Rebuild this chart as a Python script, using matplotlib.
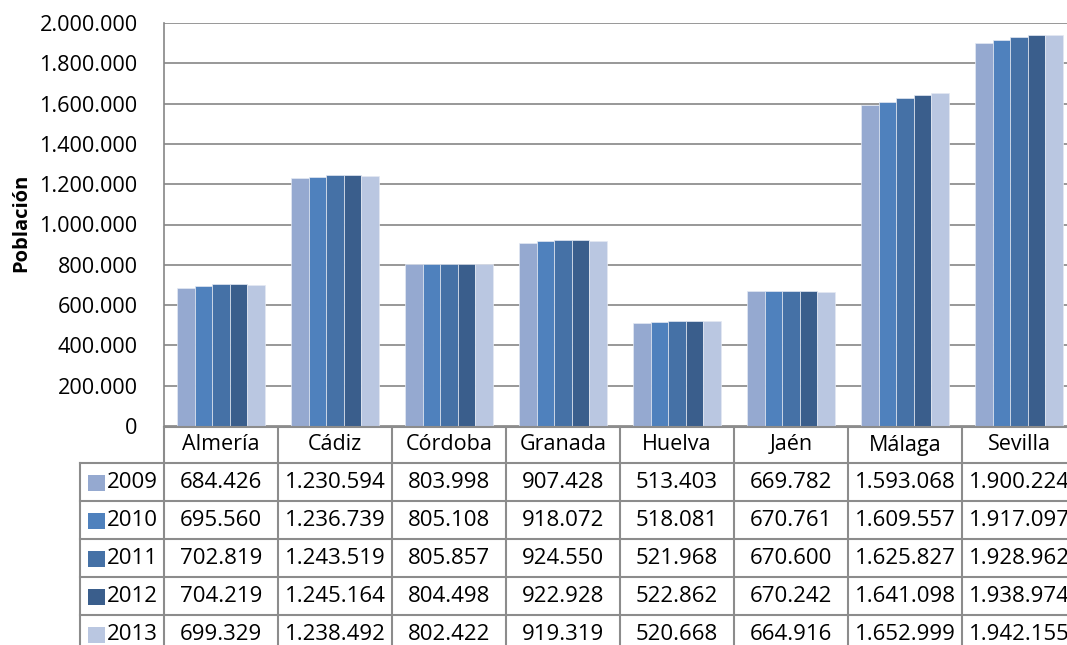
import matplotlib.pyplot as plt
from matplotlib.transforms import blended_transform_factory
from matplotlib.patches import Rectangle

# datos
provincias = ['Almería', 'Cádiz', 'Córdoba', 'Granada', 'Huelva', 'Jaén', 'Málaga', 'Sevilla']
anios = ['2009', '2010', '2011', '2012', '2013']
pob_2009 = [684426, 1230594, 803998, 907428, 513403, 669782, 1593068, 1900224]
pob_2010 = [695560, 1236739, 805108, 918072, 518081, 670761, 1609557, 1917097]
pob_2011 = [702819, 1243519, 805857, 924550, 521968, 670600, 1625827, 1928962]
pob_2012 = [704219, 1245164, 804498, 922928, 522862, 670242, 1641098, 1938974]
pob_2013 = [699329, 1238492, 802422, 919319, 520668, 664916, 1652999, 1942155]
series = [pob_2009, pob_2010, pob_2011, pob_2012, pob_2013]
colores = ['#95a9d0', '#4f81bd', '#4571a6', '#3a5e8c', '#bac7e1']
y_ticks = [0, 200000, 400000, 600000, 800000, 1000000, 1200000, 1400000,
           1600000, 1800000, 2000000]

plt.rcParams['font.family'] = ['Open Sans', 'DejaVu Sans']

W, H = 1067, 645
fig = plt.figure(figsize=(W / 100, H / 100), dpi=100)
col_w = 114
ax = fig.add_axes([164 / W, 1 - 426 / H, 8 * col_w / W, 403 / H])


def fmt(v):
    return f'{v:,}'.replace(',', '.')


ancho = 0.154
for k, vals in enumerate(series):
    xs = [i + (k - 2) * ancho for i in range(len(provincias))]
    ax.bar(xs, vals, width=ancho, color=colores[k], edgecolor='#e4e9f3',
           linewidth=0.5, zorder=2)

ax.set_xlim(-0.5, 7.5)
ax.set_ylim(0, 2000000)
ax.set_yticks(y_ticks)
ax.set_yticklabels([fmt(v) for v in y_ticks], fontsize=15.6)
ax.tick_params(axis='y', length=0, pad=19)
ax.tick_params(axis='x', length=0, labelbottom=False)
ax.grid(axis='y', color='#868686', linewidth=1.2)
ax.set_axisbelow(True)
for s in ['top', 'right', 'bottom']:
    ax.spines[s].set_visible(False)
ax.spines['left'].set_color('#868686')
ax.spines['left'].set_linewidth(1.2)

fig.text(21 / W, 1 - 223 / H, 'Población', rotation=90, ha='center', va='center',
         fontsize=14.5, fontweight='bold')

# tabla de datos
tr = blended_transform_factory(ax.transData, fig.transFigure)
gris = '#8c8c8c'
x_izq = -0.5 - 84 / col_w
fila_y = [427, 463, 501, 539, 577, 615, 653]


def fy(p):
    return 1 - p / H


ax.plot([-0.5, 7.5], [fy(427), fy(427)], transform=tr, color=gris, lw=1.5, clip_on=False)
for p in fila_y[1:-1]:
    ax.plot([x_izq, 7.5], [fy(p), fy(p)], transform=tr, color=gris, lw=1.5, clip_on=False)
ax.plot([x_izq, x_izq], [fy(463), fy(660)], transform=tr, color=gris, lw=1.5, clip_on=False)
for i in range(len(provincias) + 1):
    xb = i - 0.5
    ax.plot([xb, xb], [fy(427), fy(660)], transform=tr, color=gris, lw=1.5, clip_on=False)

for i, prov in enumerate(provincias):
    ax.text(i, fy(445), prov, transform=tr, ha='center', va='center', fontsize=15.5)

for k, vals in enumerate(series):
    yc = fy((fila_y[k + 1] + fila_y[k + 2]) / 2 + 1)
    for i, v in enumerate(vals):
        ax.text(i, yc, fmt(v), transform=tr, ha='center', va='center', fontsize=16,
                clip_on=False)
    fig.patches.append(Rectangle((88 / W, yc - 8 / H), 17 / W, 16 / H,
                                 transform=fig.transFigure, facecolor=colores[k],
                                 edgecolor='none'))
    fig.text(107 / W, yc, anios[k], ha='left', va='center', fontsize=16)

fig.savefig('out.png', dpi=100)
